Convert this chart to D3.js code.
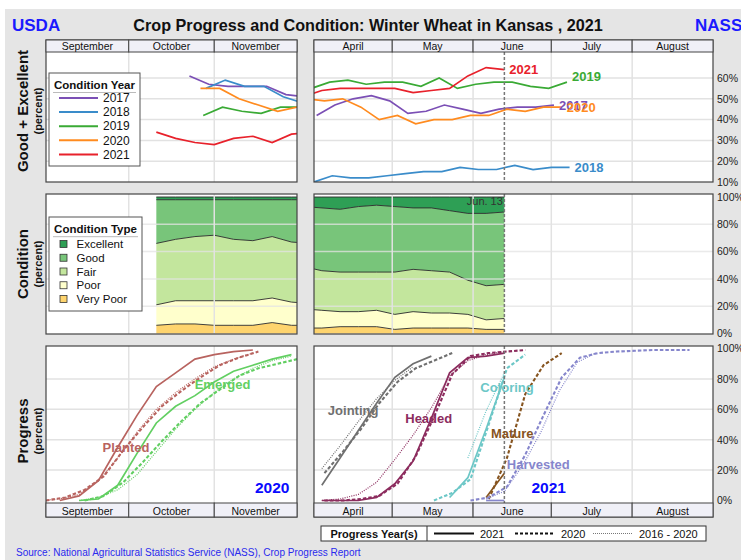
<!DOCTYPE html>
<html><head><meta charset="utf-8">
<script src="https://cdn.jsdelivr.net/npm/d3@7"></script>
<style>body{margin:0;background:#fff}svg{display:block;font-family:"Liberation Sans",Arial,Helvetica,sans-serif}</style>
</head><body><svg id="c" width="741" height="560"></svg>
<script>
// ---------------- DATA ----------------
const fallMonths = ["September","October","November"];
const springMonths = ["April","May","June","July","August"];
const condYears = ["2017","2018","2019","2020","2021"];
const condTypes = ["Excellent","Good","Fair","Poor","Very Poor"];
const progressYears = ["2021","2020","2016 - 2020"];

// Good+Excellent, fall (planting season before each crop year)
const geFallDates = {
  "2017": ["10-23","10-30","11-06","11-13","11-20","11-27","12-04"],
  "2018": ["10-29","11-05","11-12","11-19","11-26","12-03"],
  "2019": ["10-28","11-04","11-11","11-18","11-25","12-02"],
  "2020": ["10-27","11-03","11-10","11-17","11-24","12-01"],
  "2021": ["10-11","10-18","10-25","11-01","11-08","11-15","11-22","11-29","12-06"]
};
const geFall2017 = [61,57,56,56,56,52,51];
const geFall2018 = [55,59,56,56,51,48];
const geFall2019 = [42,46,44,43,46,46];
const geFall2020 = [55,55,50,47,44,46];
const geFall2021 = [34,31,29,28,31,32,29,33,34];

// Good+Excellent, spring
const geSpringDates = {
  "2017": ["04-02","04-09","04-16","04-23","04-30","05-07","05-14","05-21","05-28","06-04","06-11","06-18","06-25","07-02"],
  "2018": ["04-01","04-08","04-15","04-22","04-29","05-06","05-13","05-20","05-27","06-03","06-10","06-17","06-24","07-01","07-08"],
  "2019": ["03-31","04-07","04-14","04-21","04-28","05-05","05-12","05-19","05-26","06-02","06-09","06-16","06-23","06-30","07-07"],
  "2020": ["03-29","04-05","04-12","04-19","04-26","05-03","05-10","05-17","05-24","05-31","06-07","06-14","06-21","06-28","07-05"],
  "2021": ["03-28","04-04","04-11","04-18","04-25","05-02","05-09","05-16","05-23","05-30","06-06","06-13"]
};
const geSpring2017 = [42,47,50,51.5,49,43,44,47,45,43,45,46,46,47];
const geSpring2018 = [10,13,12,12,13,14,15,15,17,16,16,18,16,17,17];
const geSpring2019 = [55,58,59,57,58,58,56,60,55,57,58,58,56,55,58];
const geSpring2020 = [50,49,50,46,40,42,38,40,40,42,42,45,44,46,46];
const geSpring2021 = [51,54,55,55,55,55,53,54,55,61,65,64];

// Condition categories 2021 crop
const condFallDates = ["10-11","10-18","10-25","11-01","11-08","11-15","11-22","11-29","12-06"];
const fallVeryPoor = [6,7,7,6,6,6,8,6,6];
const fallPoor     = [15,17,17,18,18,18,18,17,16];
const fallFair     = [45,45,47,48,45,44,45,44,44];
const fallGood     = [32,29,27,26,29,30,27,31,32];
const fallExcel    = [2,2,2,2,2,2,2,2,2];

const condSpringDates = ["03-28","04-04","04-11","04-18","04-25","05-02","05-09","05-16","05-23","05-30","06-06","06-13"];
const springVeryPoor = [4,4,5,5,5,3,4,4,4,4,3,3];
const springPoor     = [14,13,11,11,12,11,12,11,11,10,7,8];
const springFair     = [31,29,29,29,28,31,31,31,30,25,25,25];
const springGood     = [44,46,46,48,49,48,45,46,45,49,53,53];
const springExcel    = [7,8,9,7,6,7,8,8,10,12,12,11];

// Progress (percent)
const plantedDates2021 = ["09-06","09-13","09-20","09-27","10-04","10-11","10-18","10-25","11-01","11-08","11-15"];
const planted2021 = [0,3,13,35,56,75,84,93,96,98,99];
const plantedDates2020 = ["09-01","09-08","09-15","09-22","09-29","10-06","10-13","10-20","10-27","11-03","11-10","11-17"];
const planted2020 = [0,2,7,16,33,48,62,72,81,89,94,98];
const plantedDatesAvg = ["08-30","09-06","09-13","09-20","09-27","10-04","10-11","10-18","10-25","11-01","11-08","11-15"];
const plantedAvg = [0,1,4,13,28,45,60,71,80,88,93,97];

const emergedDates2021 = ["09-13","09-20","09-27","10-04","10-11","10-18","10-25","11-01","11-08","11-15","11-22","11-29"];
const emerged2021 = [0,1,10,31,51,62,69,78,85,89,93,96];
const emergedDates2020 = ["09-15","09-22","09-29","10-06","10-13","10-20","10-27","11-03","11-10","11-17","11-24","12-01"];
const emerged2020 = [0,3,12,25,39,52,64,73,82,87,90,93];
const emergedDatesAvg = ["09-13","09-20","09-27","10-04","10-11","10-18","10-25","11-01","11-08","11-15","11-22","11-29"];
const emergedAvg = [0,2,7,17,32,47,60,71,80,87,92,95];

const jointingDates2021 = ["04-04","04-11","04-18","04-25","05-02","05-09","05-16"];
const jointing2021 = [10,28,46,64,81,90,95];
const jointingDates2020 = ["04-05","04-12","04-19","04-26","05-03","05-10","05-17","05-24"];
const jointing2020 = [18,32,47,64,78,87,92,97];
const jointingDatesAvg = ["04-04","04-11","04-18","04-25","05-02","05-09"];
const jointingAvg = [21,36,52,67,79,88];

const headedDates2021 = ["04-04","04-11","04-18","04-25","05-02","05-09","05-16","05-23","05-30","06-06","06-13"];
const headed2021 = [0,0,0,2,11,26,54,84,94,95,97];
const headedDates2020 = ["04-05","04-12","04-19","04-26","05-03","05-10","05-17","05-24","05-31","06-07","06-14","06-21"];
const headed2020 = [0,0,1,3,11,29,55,83,95,97,98,99];
const headedDatesAvg = ["04-04","04-11","04-18","04-25","05-02","05-09","05-16","05-23","05-30","06-06","06-13"];
const headedAvg = [0,1,4,12,27,43,61,82,92,96,98];

const coloringDates2021 = ["05-23","05-30","06-06","06-13"];
const coloring2021 = [2,15,47,81];
const coloringDates2020 = ["05-17","05-24","05-31","06-07","06-14","06-21"];
const coloring2020 = [0,5,14,50,87,96];
const coloringDatesAvg = ["05-30","06-06","06-13"];
const coloringAvg = [28,59,84];

const matureDates2021 = ["06-06","06-13"];
const mature2021 = [2,18];
const matureDates2020 = ["06-07","06-14","06-21","06-28","07-05"];
const mature2020 = [1,28,70,89,97];

const harvestedDates2021 = ["06-06","06-13"];
const harvested2021 = [0,0];
const harvestedDates2020 = ["05-31","06-07","06-14","06-21","06-28","07-05","07-12","07-19","07-26","08-02","08-09","08-16","08-23"];
const harvested2020 = [0,2,9,30,56,81,94,97,98,98.5,99,99,99];
const harvestedDatesAvg = ["06-06","06-13","06-20","06-27","07-04","07-11","07-18"];
const harvestedAvg = [1,6,23,45,72,91,97];

const yTicksGE = [10,20,30,40,50,60];
const yTicksPct = [0,20,40,60,80,100];
const currentWeek = "06-13";

// ---------------- STYLE / LAYOUT ----------------
const yearColor = {"2017":"#7b4fb5","2018":"#3a8cca","2019":"#3aaa35","2020":"#ff8b1f","2021":"#e8212b"};
const yearLabelNudge = {"2017":0,"2018":0,"2019":-6,"2020":0,"2021":0};
const condColor = {"Excellent":"#2e9f55","Good":"#78c57a","Fair":"#c3e69d","Poor":"#ffffcc","Very Poor":"#fed46e"};
const stageColor = {Planted:"#b8635f",Emerged:"#62cf62",Jointing:"#707070",Headed:"#8c2c5e",Coloring:"#6cc7c7",Mature:"#86541f",Harvested:"#8686cc"};
const dashStyle = {
  solid:{w:1.7,d:null},
  dashed:{w:2.1,d:"3.5,2"},
  dotted:{w:1.2,d:"1,1.3"}
};

const svg = d3.select("#c");
svg.append("rect").attr("x",5).attr("y",9).attr("width",736).attr("height",551).attr("fill","#e5e5e5");

const LX=[46,297], RX=[314,713];
const xF=d3.scaleTime().domain([new Date(2020,8,1),new Date(2020,11,1)]).range(LX);
const xS=d3.scaleTime().domain([new Date(2021,3,1),new Date(2021,8,1)]).range(RX);
const yG=d3.scaleLinear().domain([10,60]).range([182,78]);
const yC=d3.scaleLinear().domain([0,100]).range([333.5,197]);
const yP=d3.scaleLinear().domain([0,100]).range([500.5,348.5]);

const pd = (s,yr)=>{const [m,d]=s.split("-").map(Number);return new Date(yr,m-1,d);};
const fd = s=>pd(s,2020), sd = s=>pd(s,2021);

const defs = svg.append("defs");
let clipN=0;
function plotArea(x0,x1,y0,y1){
  const id="clip"+(clipN++);
  defs.append("clipPath").attr("id",id).append("rect").attr("x",x0).attr("y",y0).attr("width",x1-x0).attr("height",y1-y0);
  svg.append("rect").attr("x",x0).attr("y",y0).attr("width",x1-x0).attr("height",y1-y0).attr("fill","#fff");
  return svg.append("g").attr("clip-path",`url(#${id})`);
}
function monthGrid(g,x,year,m0,names,y0,y1){
  for(let i=1;i<names.length;i++){
    const xx=x(new Date(year,m0+i,1));
    g.append("line").attr("x1",xx).attr("x2",xx).attr("y1",y0).attr("y2",y1).attr("stroke","#e2e2e2").attr("stroke-width",1.5);
  }
}
function hGrid(g,y,vals,x0,x1,col,op){
  vals.forEach(v=>g.append("line").attr("x1",x0).attr("x2",x1).attr("y1",y(v)).attr("y2",y(v))
    .attr("stroke",col||"#e2e2e2").attr("stroke-width",1.5).attr("opacity",op||1));
}
function monthBand(x,year,m0,names,y0,y1){
  names.forEach((n,i)=>{
    const a=x(new Date(year,m0+i,1)), b=x(new Date(year,m0+i+1,1));
    svg.append("rect").attr("x",a).attr("y",y0).attr("width",b-a).attr("height",y1-y0)
      .attr("fill","#f0f0f7").attr("stroke","#444").attr("stroke-width",1);
    svg.append("text").attr("x",(a+b)/2).attr("y",y1-2.5).attr("text-anchor","middle")
      .attr("font-size",10.5).attr("fill","#111").text(n);
  });
}
function frame(x0,x1,y0,y1){
  svg.append("rect").attr("x",x0).attr("y",y0).attr("width",x1-x0).attr("height",y1-y0)
    .attr("fill","none").attr("stroke","#444").attr("stroke-width",1.2);
}
function rightAxis(y,vals){
  const g=svg.append("g").attr("transform","translate(717,0)")
    .call(d3.axisRight(y).tickValues(vals).tickSize(0).tickPadding(0).tickFormat(d=>d+"%"));
  g.select(".domain").remove();
  g.selectAll("text").attr("font-size",10.5).attr("fill","#222").attr("font-family","Liberation Sans,Arial,sans-serif");
}
function vDash(x,y0,y1){
  svg.append("line").attr("x1",x).attr("x2",x).attr("y1",y0).attr("y2",y1)
    .attr("stroke","#777").attr("stroke-width",1.5).attr("stroke-dasharray","3,2");
}

// ---------------- HEADER ----------------
svg.append("text").attr("x",12).attr("y",31).attr("font-size",17).attr("font-weight","bold").attr("fill","#1a1aff").text("USDA");
svg.append("text").attr("x",695).attr("y",31).attr("font-size",17).attr("font-weight","bold").attr("fill","#1a1aff").text("NASS");
svg.append("text").attr("x",368).attr("y",31).attr("text-anchor","middle").attr("font-size",16.2).attr("font-weight","bold").attr("fill","#111")
  .text("Crop Progress and Condition: Winter Wheat in Kansas , 2021");

// y titles
function yTitle(cy,t){
  svg.append("text").attr("transform",`translate(28,${cy}) rotate(-90)`).attr("text-anchor","middle")
    .attr("font-size",15).attr("font-weight","bold").attr("fill","#111").text(t);
  svg.append("text").attr("transform",`translate(42,${cy}) rotate(-90)`).attr("text-anchor","middle")
    .attr("font-size",11).attr("font-weight","bold").attr("fill","#111").text("(percent)");
}
yTitle(111,"Good + Excellent");
yTitle(264,"Condition");
yTitle(431,"Progress");

// ---------------- TOP PANELS (Good+Excellent) ----------------
const geLine=(x,y)=>d3.line().x(d=>x(d.date)).y(d=>y(d.v));
const geFallVals={"2017":geFall2017,"2018":geFall2018,"2019":geFall2019,"2020":geFall2020,"2021":geFall2021};
const geSpringVals={"2017":geSpring2017,"2018":geSpring2018,"2019":geSpring2019,"2020":geSpring2020,"2021":geSpring2021};

{
  const g=plotArea(LX[0],LX[1],52,182);
  monthGrid(g,xF,2020,8,fallMonths,52,182);
  hGrid(g,yG,[20,30,40,50,60],LX[0],LX[1]);
  condYears.forEach(yr=>{
    const data=geFallDates[yr].map((s,i)=>({date:fd(s),v:geFallVals[yr][i]}));
    g.append("path").datum(data).attr("d",geLine(xF,yG)).attr("fill","none").attr("stroke",yearColor[yr]).attr("stroke-width",1.7);
  });
  frame(LX[0],LX[1],40,182);
  monthBand(xF,2020,8,fallMonths,40,52);
  // legend
  const lg=svg.append("g");
  lg.append("rect").attr("x",49).attr("y",73).attr("width",91).attr("height",93).attr("fill","#fff").attr("stroke","#555").attr("stroke-width",1);
  lg.append("text").attr("x",94.5).attr("y",89).attr("text-anchor","middle").attr("font-size",11.5).attr("font-weight","bold").attr("fill","#111").text("Condition Year");
  lg.append("line").attr("x1",53).attr("x2",136).attr("y1",92.5).attr("y2",92.5).attr("stroke","#bbb");
  condYears.forEach((yr,i)=>{
    const cy=98+i*14.1;
    lg.append("line").attr("x1",59).attr("x2",98).attr("y1",cy).attr("y2",cy).attr("stroke",yearColor[yr]).attr("stroke-width",2);
    lg.append("text").attr("x",103).attr("y",cy+4.2).attr("font-size",12).attr("fill","#111").text(yr);
  });
}
{
  const g=plotArea(RX[0],RX[1],52,182);
  monthGrid(g,xS,2021,3,springMonths,52,182);
  hGrid(g,yG,[20,30,40,50,60],RX[0],RX[1]);
  condYears.forEach(yr=>{
    const data=geSpringDates[yr].map((s,i)=>({date:sd(s),v:geSpringVals[yr][i]}));
    g.append("path").datum(data).attr("d",geLine(xS,yG)).attr("fill","none").attr("stroke",yearColor[yr]).attr("stroke-width",1.7);
  });
  vDash(xS(sd(currentWeek)),52,182);
  condYears.forEach(yr=>{
    const ds=geSpringDates[yr], vs=geSpringVals[yr];
    svg.append("text").attr("x",xS(sd(ds[ds.length-1]))+5).attr("y",yG(vs[vs.length-1])+yearLabelNudge[yr]).attr("dy","0.35em")
      .attr("font-size",13).attr("font-weight","bold").attr("fill",yearColor[yr]).text(yr);
  });
  frame(RX[0],RX[1],40,182);
  monthBand(xS,2021,3,springMonths,40,52);
  rightAxis(yG,yTicksGE);
}

// ---------------- MIDDLE PANELS (Condition) ----------------
const stackKeys=["Very Poor","Poor","Fair","Good","Excellent"];
function condRows(dates,parse,vp,p,f,g,e){
  return dates.map((s,i)=>({date:parse(s),"Very Poor":vp[i],"Poor":p[i],"Fair":f[i],"Good":g[i],"Excellent":e[i]}));
}
function drawCond(g,x,rows){
  const series=d3.stack().keys(stackKeys)(rows);
  const area=d3.area().x(d=>x(d.data.date)).y0(d=>yC(d[0])).y1(d=>yC(d[1]));
  const top=d3.line().x(d=>x(d.data.date)).y(d=>yC(d[1]));
  series.forEach(s=>g.append("path").datum(s).attr("d",area).attr("fill",condColor[s.key]).attr("stroke","none"));
  series.forEach(s=>g.append("path").datum(s).attr("d",top).attr("fill","none").attr("stroke","#2a2a2a").attr("stroke-width",0.9));
}
{
  const g=plotArea(LX[0],LX[1],194,334);
  drawCond(g,xF,condRows(condFallDates,fd,fallVeryPoor,fallPoor,fallFair,fallGood,fallExcel));
  monthGrid(g,xF,2020,8,fallMonths,194,334);
  hGrid(g,yC,[20,40,60,80],LX[0],LX[1],"#e4e4e4",0.75);
  frame(LX[0],LX[1],194,334);
  const lg=svg.append("g");
  lg.append("rect").attr("x",49).attr("y",217).attr("width",93).attr("height",94).attr("fill","#fff").attr("stroke","#555").attr("stroke-width",1);
  lg.append("text").attr("x",95.5).attr("y",233).attr("text-anchor","middle").attr("font-size",11.5).attr("font-weight","bold").attr("fill","#111").text("Condition Type");
  lg.append("line").attr("x1",53).attr("x2",138).attr("y1",236.7).attr("y2",236.7).attr("stroke","#bbb");
  condTypes.forEach((t,i)=>{
    const cy=244+i*13.75;
    lg.append("rect").attr("x",60).attr("y",cy-3.5).attr("width",7).attr("height",7).attr("fill",condColor[t]).attr("stroke","#333").attr("stroke-width",0.8);
    lg.append("text").attr("x",76.5).attr("y",cy+4.2).attr("font-size",11.5).attr("fill","#111").text(t);
  });
}
{
  const g=plotArea(RX[0],RX[1],194,334);
  drawCond(g,xS,condRows(condSpringDates,sd,springVeryPoor,springPoor,springFair,springGood,springExcel));
  monthGrid(g,xS,2021,3,springMonths,194,334);
  hGrid(g,yC,[20,40,60,80],RX[0],RX[1],"#e4e4e4",0.75);
  const cx=xS(sd(currentWeek));
  vDash(cx,194,334);
  svg.append("text").attr("x",cx-1.5).attr("y",205).attr("text-anchor","end").attr("font-size",11).attr("fill","#333").text("Jun. 13");
  frame(RX[0],RX[1],194,334);
  rightAxis(yC,yTicksPct);
}

// ---------------- BOTTOM PANELS (Progress) ----------------
function progLine(g,x,parse,dates,vals,color,style){
  const data=dates.map((s,i)=>({date:parse(s),v:vals[i]}));
  const st=dashStyle[style];
  const p=g.append("path").datum(data).attr("d",d3.line().x(d=>x(d.date)).y(d=>yP(d.v)))
    .attr("fill","none").attr("stroke",color).attr("stroke-width",st.w);
  if(st.d) p.attr("stroke-dasharray",st.d);
}
function stageLabel(x,parse,dateStr,val,text,color,size){
  svg.append("text").attr("x",x(parse(dateStr))).attr("y",yP(val)).attr("dy","0.35em").attr("text-anchor","middle")
    .attr("font-size",size||13).attr("font-weight","bold").attr("fill",color).text(text);
}
{
  const g=plotArea(LX[0],LX[1],346,503);
  monthGrid(g,xF,2020,8,fallMonths,346,503);
  hGrid(g,yP,[20,40,60,80],LX[0],LX[1]);
  progLine(g,xF,fd,plantedDatesAvg,plantedAvg,stageColor.Planted,"dotted");
  progLine(g,xF,fd,plantedDates2020,planted2020,stageColor.Planted,"dashed");
  progLine(g,xF,fd,plantedDates2021,planted2021,stageColor.Planted,"solid");
  progLine(g,xF,fd,emergedDatesAvg,emergedAvg,stageColor.Emerged,"dotted");
  progLine(g,xF,fd,emergedDates2020,emerged2020,stageColor.Emerged,"dashed");
  progLine(g,xF,fd,emergedDates2021,emerged2021,stageColor.Emerged,"solid");
  stageLabel(xF,fd,"09-30",35,"Planted",stageColor.Planted);
  stageLabel(xF,fd,"11-04",76.5,"Emerged",stageColor.Emerged);
  stageLabel(xF,fd,"11-22",8.2,"2020","#0a0aff",15.5);
  frame(LX[0],LX[1],346,517);
  monthBand(xF,2020,8,fallMonths,503,517);
}
{
  const g=plotArea(RX[0],RX[1],346,503);
  monthGrid(g,xS,2021,3,springMonths,346,503);
  hGrid(g,yP,[20,40,60,80],RX[0],RX[1]);
  const stages=[
    ["Jointing",jointingDates2021,jointing2021,jointingDates2020,jointing2020,jointingDatesAvg,jointingAvg],
    ["Headed",headedDates2021,headed2021,headedDates2020,headed2020,headedDatesAvg,headedAvg],
    ["Coloring",coloringDates2021,coloring2021,coloringDates2020,coloring2020,coloringDatesAvg,coloringAvg],
    ["Mature",matureDates2021,mature2021,matureDates2020,mature2020,null,null],
    ["Harvested",harvestedDates2021,harvested2021,harvestedDates2020,harvested2020,harvestedDatesAvg,harvestedAvg]
  ];
  stages.forEach(s=>{
    const c=stageColor[s[0]];
    if(s[5]) progLine(g,xS,sd,s[5],s[6],c,"dotted");
    progLine(g,xS,sd,s[3],s[4],c,"dashed");
    progLine(g,xS,sd,s[1],s[2],c,"solid");
  });
  vDash(xS(sd(currentWeek)),346,503);
  stageLabel(xS,sd,"04-16",59.5,"Jointing",stageColor.Jointing);
  stageLabel(xS,sd,"05-15",54,"Headed",stageColor.Headed);
  stageLabel(xS,sd,"06-14",74.5,"Coloring",stageColor.Coloring);
  stageLabel(xS,sd,"06-16",43.8,"Mature",stageColor.Mature);
  stageLabel(xS,sd,"06-26",24,"Harvested",stageColor.Harvested);
  stageLabel(xS,sd,"06-30",8.4,"2021","#0a0aff",15.5);
  frame(RX[0],RX[1],346,517);
  monthBand(xS,2021,3,springMonths,503,517);
  rightAxis(yP,yTicksPct);
}

// ---------------- PROGRESS LEGEND ----------------
{
  const lg=svg.append("g");
  lg.append("rect").attr("x",321).attr("y",526).attr("width",385).attr("height",15).attr("fill","#fff").attr("stroke","#333").attr("stroke-width",1);
  lg.append("line").attr("x1",427).attr("x2",427).attr("y1",526).attr("y2",541).attr("stroke","#333");
  lg.append("text").attr("x",374).attr("y",537.5).attr("text-anchor","middle").attr("font-size",11).attr("font-weight","bold").attr("fill","#111").text("Progress Year(s)");
  const items=[{x:434,st:{w:2,d:null},c:"#111"},{x:515,st:{w:2,d:"3,2"},c:"#111"},{x:593,st:{w:1,d:"1,1"},c:"#777"}];
  items.forEach((it,i)=>{
    const l=lg.append("line").attr("x1",it.x).attr("x2",it.x+40).attr("y1",533.5).attr("y2",533.5).attr("stroke",it.c).attr("stroke-width",it.st.w);
    if(it.st.d) l.attr("stroke-dasharray",it.st.d);
    lg.append("text").attr("x",it.x+46).attr("y",537.5).attr("font-size",11).attr("fill","#111").text(progressYears[i]);
  });
}
svg.append("text").attr("x",16).attr("y",555.5).attr("font-size",10).attr("fill","#2a2aee")
  .text("Source: National Agricultural Statistics Service (NASS), Crop Progress Report");
</script></body></html>
